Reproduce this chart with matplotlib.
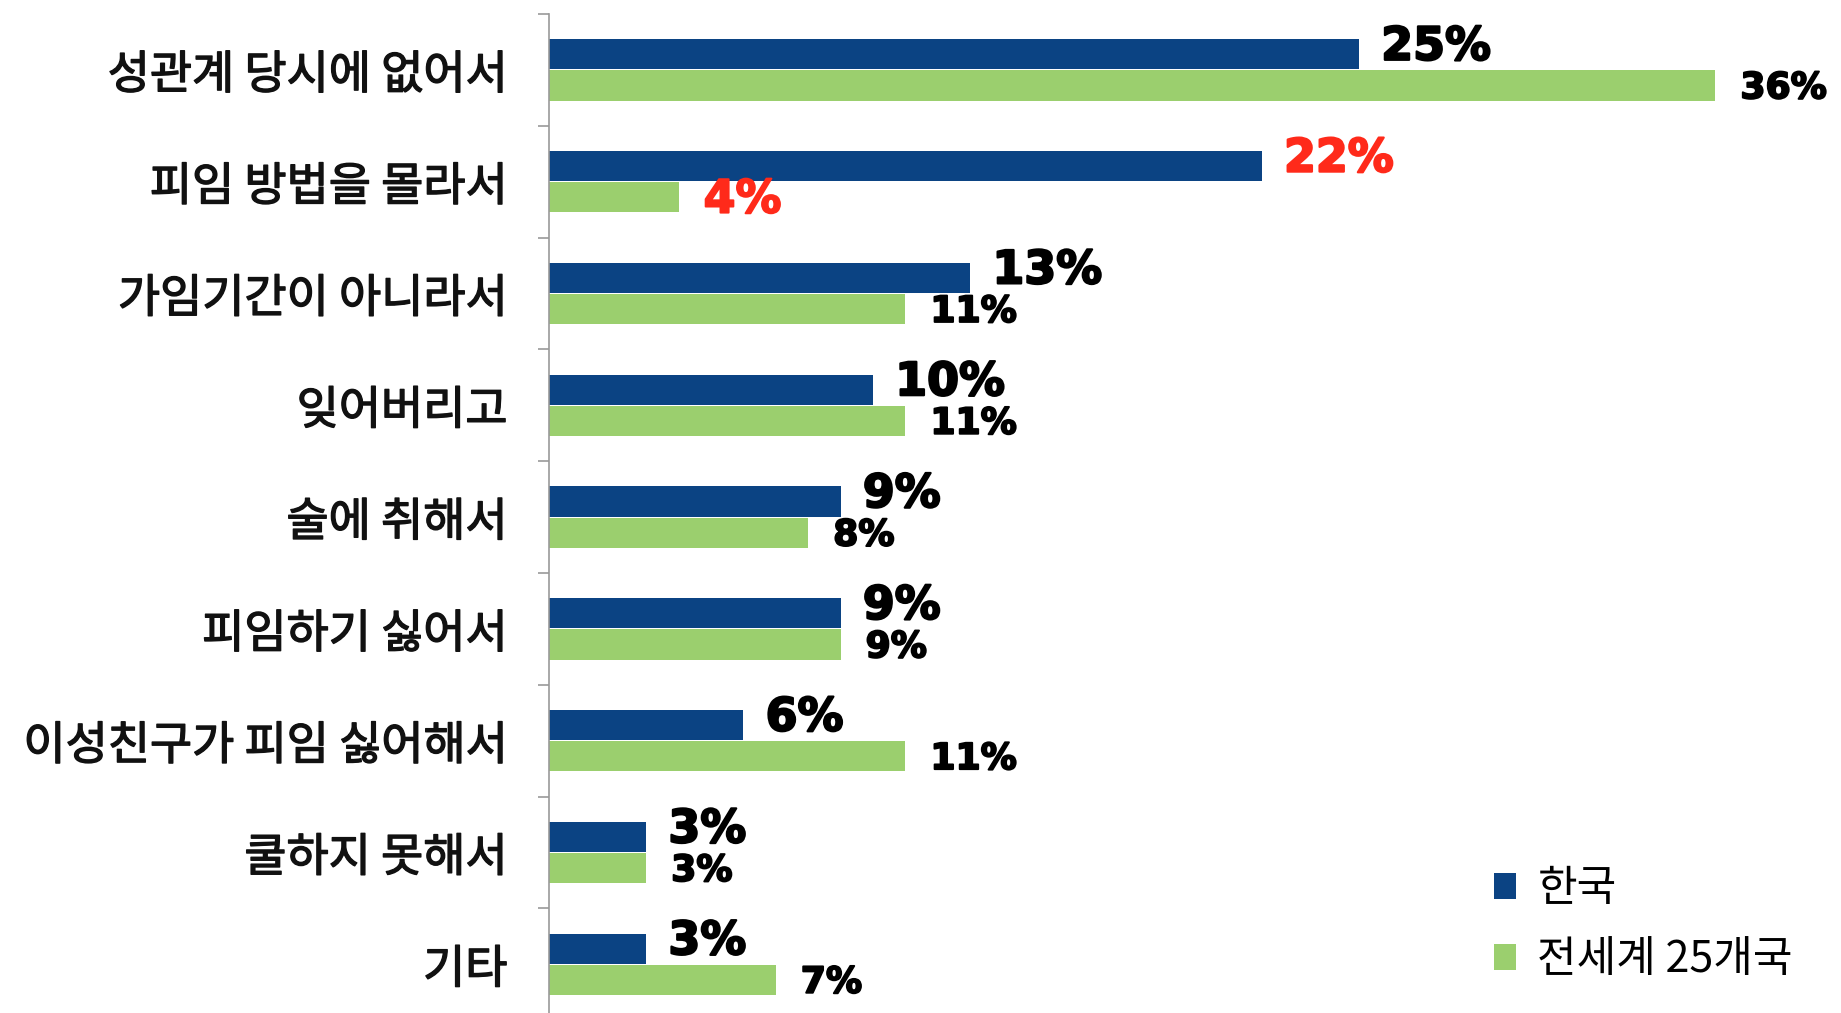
import matplotlib
matplotlib.use("Agg")
import matplotlib.pyplot as plt
import matplotlib.patheffects as pe
from matplotlib.patches import Patch
import numpy as np

categories = ["성관계 당시에 없어서", "피임 방법을 몰라서", "가임기간이 아니라서", "잊어버리고",
              "술에 취해서", "피임하기 싫어서", "이성친구가 피임 싫어해서", "쿨하지 못해서", "기타"]
korea = [25, 22, 13, 10, 9, 9, 6, 3, 3]
world = [36, 4, 11, 11, 8, 9, 11, 3, 7]
series_names = ["한국", "전세계 25개국"]
highlight_row = 1

KR = ["Noto Sans CJK KR", "DejaVu Sans"]
plt.rcParams['font.family'] = KR

W, H = 1841, 1013
fig = plt.figure(figsize=(W / 100, H / 100), dpi=100)
ax_left = 549 / W
ax_top = 1 - 14 / H
ax_h = 9 * 111.8 / H
ax = fig.add_axes([ax_left, ax_top - ax_h, 1 - ax_left, ax_h])

blue = "#0B4383"
green = "#9BCF6E"
y = np.arange(len(categories))
bh = 0.27
off = 0.14
ax.barh(y - off, korea, height=bh, color=blue)
ax.barh(y + off, world, height=bh, color=green)

ax.set_xlim(0, (W - 549) / 32.4)
ax.set_ylim(len(categories) - 0.5, -0.5)

for i, (k, w) in enumerate(zip(korea, world)):
    col = "#FF2A1A" if i == highlight_row else "black"
    ax.annotate(f"{k}%", xy=(k, i - off), xytext=(16, 5), textcoords="offset points",
                ha="left", va="center", fontsize=33, fontweight="bold", color=col,
                family="DejaVu Sans",
                path_effects=[pe.withStroke(linewidth=1.6, foreground=col)])
    wfs = 33 if i == highlight_row else 26
    ax.annotate(f"{w}%", xy=(w, i + off), xytext=(18, -2), textcoords="offset points",
                ha="left", va="center", fontsize=wfs, fontweight="bold", color=col,
                family="DejaVu Sans",
                path_effects=[pe.withStroke(linewidth=1.4, foreground=col)])

ax.set_yticks(y)
ax.set_yticklabels(categories, fontsize=33, color="#111111")
for lbl in ax.get_yticklabels():
    lbl.set_path_effects([pe.withStroke(linewidth=1.0, foreground="#111111")])
ax.tick_params(axis="y", which="major", length=0, pad=30)
ax.set_yticks(np.arange(len(categories) + 1) - 0.5, minor=True)
ax.tick_params(axis="y", which="minor", length=8, width=1.2, color="#999999", direction="out")
ax.set_xticks([])
for s in ["top", "right", "bottom"]:
    ax.spines[s].set_visible(False)
ax.spines["left"].set_color("#999999")
ax.spines["left"].set_linewidth(1.2)

handles = [Patch(facecolor=blue), Patch(facecolor=green)]
fig.legend(handles, series_names, loc="upper left", bbox_to_anchor=(1477 / W, 1 - 850 / H),
           frameon=False, prop={"size": 31, "weight": "light"}, handlelength=0.5,
           handleheight=0.55, handletextpad=0.5, labelspacing=0.62, borderaxespad=0)

fig.savefig("out.png", dpi=100)
